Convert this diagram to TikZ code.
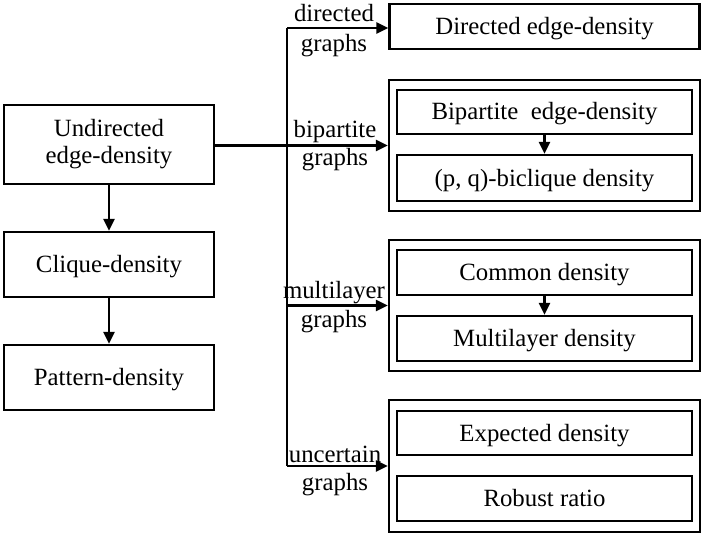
\documentclass[tikz,border=0pt]{standalone}
\usepackage{fontspec}
\setmainfont{Liberation Serif}
\usetikzlibrary{arrows.meta}
\begin{document}
\begin{tikzpicture}[x=1pt,y=-1pt,
  box/.style={draw,line width=2.4pt,rectangle,inner sep=0pt,align=center,font=\fontsize{24.8}{28}\selectfont},
  one/.style={text height=21pt,text depth=5pt},
  lab/.style={anchor=base,inner sep=0pt,font=\fontsize{24.8}{28}\selectfont},
  conn/.style={line width=2.4pt,-{Triangle[length=12pt,width=11pt]}},
  plain/.style={line width=2.4pt}]
\useasboundingbox (0,0) rectangle (705,535);
% left column
\node[box,minimum width=210,minimum height=79] (und) at (109,144.5) {Undirected\\[-1pt]edge-density};
\node[box,one,minimum width=210,minimum height=65] (cli) at (109,264.5) {Clique-density};
\node[box,one,minimum width=210,minimum height=65] (pat) at (109,377.5) {Pattern-density};
% right column
\node[box,one,minimum width=310,minimum height=45] (dir) at (544.5,26.5) {Directed edge-density};
\node[box,minimum width=311,minimum height=131] (bipo) at (544.5,145.5) {};
\node[box,one,minimum width=295,minimum height=44] (bip1) at (544.5,112) {Bipartite~ edge-density};
\node[box,one,minimum width=295,minimum height=46] (bip2) at (544.5,178) {(p, q)-biclique density};
\node[box,minimum width=311,minimum height=131] (mulo) at (544.5,305.5) {};
\node[box,one,minimum width=295,minimum height=45] (com) at (544.5,272.5) {Common density};
\node[box,one,minimum width=295,minimum height=45] (mul) at (544.5,338.5) {Multilayer density};
\node[box,minimum width=311,minimum height=132] (unco) at (544.5,466) {};
\node[box,one,minimum width=295,minimum height=44] (exp) at (544.5,433) {Expected density};
\node[box,one,minimum width=295,minimum height=45] (rob) at (544.5,498.5) {Robust ratio};
% trunk
\coordinate (t1) at (287,28);
\coordinate (t4) at (287,466);
\draw[plain] (t1) -- (t4);
% connectors
\draw[conn] (und) -- (cli);
\draw[conn] (cli) -- (pat);
\draw[conn] (bip1) -- (bip2);
\draw[conn] (com) -- (mul);
\draw[conn] (t1) -- (t1 -| dir.west);
\draw[conn] (und.east |- bipo.west) -- (bipo.west);
\draw[conn] (mulo.west -| t1) -- (mulo.west);
\draw[conn] (t4) -- (t4 -| unco.west);
% labels
\node[lab] (l1a) at (334,22) {directed};
\node[lab] (l1b) at (334,52) {graphs};
\node[lab] (l2a) at (335,137) {bipartite};
\node[lab] (l2b) at (335,165) {graphs};
\node[lab] (l3a) at (334,298) {multilayer};
\node[lab] (l3b) at (334,327) {graphs};
\node[lab] (l4a) at (335,462) {uncertain};
\node[lab] (l4b) at (335,490) {graphs};
\end{tikzpicture}
\end{document}
